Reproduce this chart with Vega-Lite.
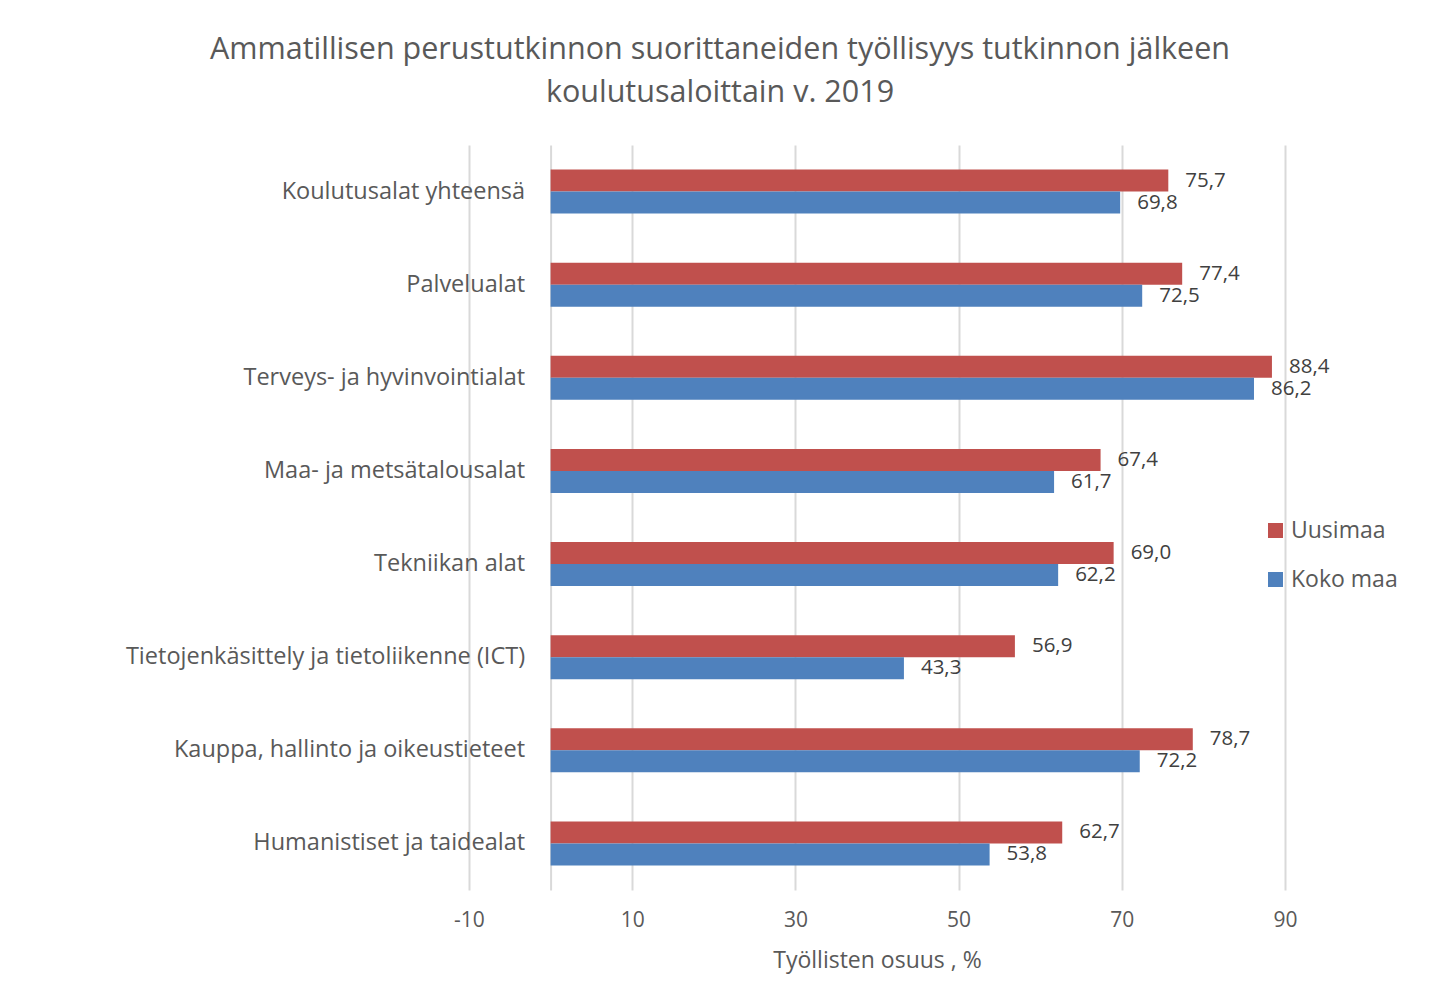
{
  "$schema": "https://vega.github.io/schema/vega-lite/v6.json",
  "autosize": {"type": "none"},
  "padding": {"left": 469, "top": 145, "right": 145, "bottom": 103},
  "width": 816,
  "height": 745,
  "background": "white",
  "config": {
    "font": "Open Sans",
    "locale": {"number": {"decimal": ",", "thousands": " ", "grouping": [3], "currency": ["", " €"], "minus": "-"}},
    "view": {"stroke": null}
  },
  "title": {
    "text": ["Ammatillisen perustutkinnon suorittaneiden työllisyys tutkinnon jälkeen", "koulutusaloittain v. 2019"],
    "font": "Open Sans",
    "fontSize": 30.5,
    "fontWeight": "normal",
    "color": "#595959",
    "lineHeight": 43,
    "anchor": "middle",
    "dx": -157,
    "offset": 37
  },
  "data": {
    "values": [
      {"ala": "Koulutusalat yhteensä", "alue": "Uusimaa", "arvo": 75.7},
      {"ala": "Koulutusalat yhteensä", "alue": "Koko maa", "arvo": 69.8},
      {"ala": "Palvelualat", "alue": "Uusimaa", "arvo": 77.4},
      {"ala": "Palvelualat", "alue": "Koko maa", "arvo": 72.5},
      {"ala": "Terveys- ja hyvinvointialat", "alue": "Uusimaa", "arvo": 88.4},
      {"ala": "Terveys- ja hyvinvointialat", "alue": "Koko maa", "arvo": 86.2},
      {"ala": "Maa- ja metsätalousalat", "alue": "Uusimaa", "arvo": 67.4},
      {"ala": "Maa- ja metsätalousalat", "alue": "Koko maa", "arvo": 61.7},
      {"ala": "Tekniikan alat", "alue": "Uusimaa", "arvo": 69.0},
      {"ala": "Tekniikan alat", "alue": "Koko maa", "arvo": 62.2},
      {"ala": "Tietojenkäsittely ja tietoliikenne (ICT)", "alue": "Uusimaa", "arvo": 56.9},
      {"ala": "Tietojenkäsittely ja tietoliikenne (ICT)", "alue": "Koko maa", "arvo": 43.3},
      {"ala": "Kauppa, hallinto ja oikeustieteet", "alue": "Uusimaa", "arvo": 78.7},
      {"ala": "Kauppa, hallinto ja oikeustieteet", "alue": "Koko maa", "arvo": 72.2},
      {"ala": "Humanistiset ja taidealat", "alue": "Uusimaa", "arvo": 62.7},
      {"ala": "Humanistiset ja taidealat", "alue": "Koko maa", "arvo": 53.8}
    ]
  },
  "encoding": {
    "y": {
      "field": "ala",
      "type": "nominal",
      "sort": null,
      "scale": {"paddingInner": 0.527, "paddingOuter": 0.2635},
      "axis": {
        "title": null,
        "offset": -81.6,
        "ticks": false,
        "domain": true,
        "domainColor": "#d9d9d9",
        "domainWidth": 2,
        "labelPadding": 26,
        "labelFontSize": 23.5,
        "labelColor": "#595959",
        "labelFont": "Open Sans",
        "labelLimit": 500
      }
    },
    "yOffset": {
      "field": "alue",
      "type": "nominal",
      "scale": {"domain": ["Uusimaa", "Koko maa"], "paddingInner": 0, "paddingOuter": 0}
    },
    "x": {
      "field": "arvo",
      "type": "quantitative",
      "scale": {"domain": [-10, 90], "nice": false, "zero": false},
      "axis": {
        "title": "Työllisten osuus , %",
        "titleFont": "Open Sans",
        "titleFontSize": 23,
        "titleFontWeight": "normal",
        "titleColor": "#595959",
        "titlePadding": 19,
        "values": [-10, 10, 30, 50, 70, 90],
        "format": "d",
        "grid": true,
        "gridColor": "#d9d9d9",
        "gridWidth": 2,
        "ticks": false,
        "domain": false,
        "labelFlush": false,
        "labelPadding": 19,
        "labelFontSize": 21,
        "labelColor": "#595959",
        "labelFont": "Open Sans"
      }
    }
  },
  "layer": [
    {
      "mark": {"type": "bar"},
      "encoding": {
        "x2": {"datum": 0},
        "color": {
          "field": "alue",
          "type": "nominal",
          "scale": {"domain": ["Uusimaa", "Koko maa"], "range": ["#C0504D", "#4F81BD"]},
          "legend": {
            "title": null,
            "orient": "none",
            "legendX": 795,
            "legendY": 374,
            "symbolType": "square",
            "symbolSize": 225,
            "symbolStrokeWidth": 0,
            "labelFontSize": 23,
            "labelFont": "Open Sans",
            "labelColor": "#595959",
            "labelOffset": 4,
            "rowPadding": 25
          }
        }
      }
    },
    {
      "mark": {"type": "text", "align": "left", "baseline": "middle", "dx": 17, "fontSize": 20.5, "color": "#404040", "font": "Open Sans"},
      "encoding": {
        "text": {"field": "arvo", "type": "quantitative", "format": ".1f"}
      }
    }
  ]
}
